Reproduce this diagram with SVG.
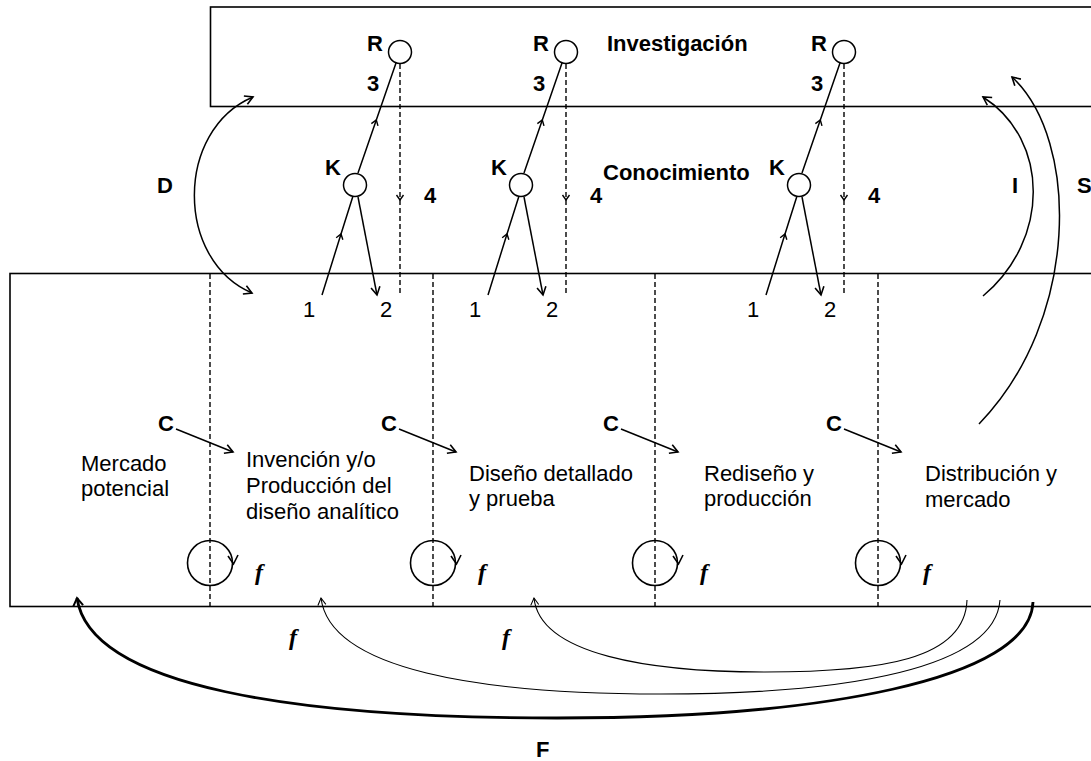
<svg xmlns="http://www.w3.org/2000/svg" width="1091" height="761" viewBox="0 0 1091 761">
  <style>
    .box { fill: none; stroke: #000; stroke-width: 1.6; }
    .line { fill: none; stroke: #000; stroke-width: 1.5; }
    .thin { fill: none; stroke: #000; stroke-width: 1.1; }
    .thick { fill: none; stroke: #000; stroke-width: 2.8; }
    .dash { fill: none; stroke: #000; stroke-width: 1.4; stroke-dasharray: 5 3; }
    .node { fill: #fff; stroke: #000; stroke-width: 1.5; }
    .loop { fill: none; stroke: #000; stroke-width: 1.6; }
    .t { font-family: "Liberation Sans", Arial, sans-serif; font-size: 22px; fill: #000; }
    .b { font-family: "Liberation Sans", Arial, sans-serif; font-size: 22px; font-weight: bold; fill: #000; }
    .fi { font-family: "Liberation Serif", "Times New Roman", serif; font-size: 24px; font-style: italic; font-weight: bold; fill: #000; }
  </style>
  <defs>
    <!-- open V arrowhead, tip at the path end -->
    <marker id="ah" markerUnits="userSpaceOnUse" viewBox="0 0 12 12" markerWidth="12" markerHeight="12" refX="10" refY="6" orient="auto-start-reverse">
      <path d="M2,1.5 L10,6 L2,10.5" fill="none" stroke="#000" stroke-width="1.6" stroke-dasharray="none"/>
    </marker>
    <!-- small open arrowhead placed mid-line -->
    <marker id="mid" markerUnits="userSpaceOnUse" viewBox="0 0 10 10" markerWidth="10" markerHeight="10" refX="7" refY="5" orient="auto">
      <path d="M2,1.5 L7,5 L2,8.5" fill="none" stroke="#000" stroke-width="1.4" stroke-dasharray="none"/>
    </marker>
    <marker id="ahThin" markerUnits="userSpaceOnUse" viewBox="0 0 12 12" markerWidth="12" markerHeight="12" refX="10" refY="6" orient="auto">
      <path d="M3,2 L10,6 L3,10" fill="none" stroke="#000" stroke-width="1.1"/>
    </marker>
    <marker id="ahThick" markerUnits="userSpaceOnUse" viewBox="0 0 14 14" markerWidth="14" markerHeight="14" refX="11" refY="7" orient="auto">
      <path d="M3,2 L11,7 L3,12" fill="none" stroke="#000" stroke-width="2"/>
    </marker>
  </defs>

  <rect width="1091" height="761" fill="#fff"/>

  <!-- research band -->
  <g id="research-box">
    <rect class="box" x="210.5" y="7" width="900" height="99.5"/>
    <text class="b" x="607" y="51">Investigación</text>
  </g>

  <g id="knowledge-label">
    <text class="b" x="603" y="180">Conocimiento</text>
  </g>

  <!-- process band with stage dividers -->
  <g id="process-box">
    <rect class="box" x="10" y="273.5" width="1100" height="333"/>
    <line class="dash" x1="210" y1="274" x2="210" y2="606"/>
    <line class="dash" x1="433" y1="274" x2="433" y2="606"/>
    <line class="dash" x1="655" y1="274" x2="655" y2="606"/>
    <line class="dash" x1="878" y1="274" x2="878" y2="606"/>
  </g>

  <g id="stage-market">
    <text class="t" x="81" y="471">Mercado</text>
    <text class="t" x="81" y="496">potencial</text>
  </g>
  <g id="stage-invention">
    <text class="t" x="246" y="467">Invención y/o</text>
    <text class="t" x="246" y="493">Producción del</text>
    <text class="t" x="246" y="519">diseño analítico</text>
  </g>
  <g id="stage-design">
    <text class="t" x="469" y="481">Diseño detallado</text>
    <text class="t" x="469" y="506">y prueba</text>
  </g>
  <g id="stage-redesign">
    <text class="t" x="704" y="481">Rediseño y</text>
    <text class="t" x="704" y="506">producción</text>
  </g>
  <g id="stage-distribution">
    <text class="t" x="925" y="481">Distribución y</text>
    <text class="t" x="925" y="507">mercado</text>
  </g>

  <!-- research / knowledge nodes -->
  <g id="r1"><circle class="node" cx="400" cy="52" r="11.5"/><text class="b" x="367" y="51">R</text></g>
  <g id="k1"><circle class="node" cx="355" cy="185" r="11.5"/><text class="b" x="325" y="175">K</text></g>
  <g id="r2"><circle class="node" cx="566" cy="52" r="11.5"/><text class="b" x="533" y="51">R</text></g>
  <g id="k2"><circle class="node" cx="521" cy="185" r="11.5"/><text class="b" x="491" y="175">K</text></g>
  <g id="r3"><circle class="node" cx="844" cy="52" r="11.5"/><text class="b" x="811" y="51">R</text></g>
  <g id="k3"><circle class="node" cx="799" cy="185" r="11.5"/><text class="b" x="769" y="175">K</text></g>

  <!-- chain-link labels -->
  <g id="chain-labels">
    <text class="b" x="367" y="91">3</text>
    <text class="b" x="424" y="203">4</text>
    <text class="t" x="303" y="317">1</text>
    <text class="t" x="380" y="317">2</text>
    <text class="b" x="533" y="91">3</text>
    <text class="b" x="590" y="203">4</text>
    <text class="t" x="469" y="317">1</text>
    <text class="t" x="546" y="317">2</text>
    <text class="b" x="811" y="91">3</text>
    <text class="b" x="868" y="203">4</text>
    <text class="t" x="747" y="317">1</text>
    <text class="t" x="824" y="317">2</text>
  </g>

  <!-- feedback loops inside each stage -->
  <g id="loops">
    <circle class="loop" cx="210" cy="563" r="22.5"/>
    <path class="loop" d="M228,556 L233.5,564 L238,555"/>
    <circle class="loop" cx="433" cy="563" r="22.5"/>
    <path class="loop" d="M451,556 L456.5,564 L461,555"/>
    <circle class="loop" cx="655" cy="563" r="22.5"/>
    <path class="loop" d="M673,556 L678.5,564 L683,555"/>
    <circle class="loop" cx="878" cy="563" r="22.5"/>
    <path class="loop" d="M896,556 L901.5,564 L906,555"/>
    <text class="fi" x="255" y="580">f</text>
    <text class="fi" x="478" y="580">f</text>
    <text class="fi" x="700" y="580">f</text>
    <text class="fi" x="923" y="580">f</text>
  </g>

  <g id="c-labels">
    <text class="b" x="158" y="431">C</text>
    <text class="b" x="381" y="431">C</text>
    <text class="b" x="603" y="431">C</text>
    <text class="b" x="826" y="431">C</text>
  </g>

  <g id="link-labels">
    <text class="b" x="157" y="193">D</text>
    <text class="b" x="1012" y="193">I</text>
    <text class="b" x="1077" y="193">S</text>
    <text class="fi" x="289" y="645">f</text>
    <text class="fi" x="502" y="645">f</text>
    <text class="b" x="536" y="757">F</text>
  </g>

  <g id="connectors">
    <!-- chain 1 -->
    <path class="line" d="M322,295 L341,234 L353,196" marker-mid="url(#mid)"/>
    <path class="line" d="M358,173 L376.3,120 L396,63" marker-mid="url(#mid)"/>
    <path class="line" d="M358,197 L377,295" marker-end="url(#ah)"/>
    <path class="dash" d="M400,64 L400,200 L400,296" marker-mid="url(#mid)"/>
    <!-- chain 2 -->
    <path class="line" d="M488,295 L507,234 L519,196" marker-mid="url(#mid)"/>
    <path class="line" d="M524,173 L542.3,120 L562,63" marker-mid="url(#mid)"/>
    <path class="line" d="M524,197 L543,295" marker-end="url(#ah)"/>
    <path class="dash" d="M566,64 L566,200 L566,296" marker-mid="url(#mid)"/>
    <!-- chain 3 -->
    <path class="line" d="M766,295 L785,234 L797,196" marker-mid="url(#mid)"/>
    <path class="line" d="M802,173 L820.3,120 L840,63" marker-mid="url(#mid)"/>
    <path class="line" d="M802,197 L821,295" marker-end="url(#ah)"/>
    <path class="dash" d="M844,64 L844,200 L844,296" marker-mid="url(#mid)"/>

    <!-- C inputs -->
    <path class="line" d="M176,429 L233,452" marker-end="url(#ah)"/>
    <path class="line" d="M399,429 L456,452" marker-end="url(#ah)"/>
    <path class="line" d="M621,429 L678,452" marker-end="url(#ah)"/>
    <path class="line" d="M844,429 L901,452" marker-end="url(#ah)"/>

    <!-- D, I, S links -->
    <path class="line" d="M253,97 C175,130 175,260 252,293" marker-start="url(#ah)" marker-end="url(#ah)"/>
    <path class="line" d="M983,296 C1050,240 1050,140 983,97" marker-end="url(#ah)"/>
    <path class="line" d="M979,424 C1080,320 1080,140 1012,77" marker-end="url(#ah)"/>

    <!-- feedback arcs under the process band -->
    <path class="thin" d="M967,600 C965,660 880,672 765,672 C650,672 540,655 534,598" marker-end="url(#ahThin)"/>
    <path class="thin" d="M1000,600 C995,668 850,694 661,694 C480,694 330,670 321,598" marker-end="url(#ahThin)"/>
    <path class="thick" d="M1033,602 C1030,680 820,718 557,718 C300,718 90,688 77,598" marker-end="url(#ahThick)"/>
  </g>
</svg>
